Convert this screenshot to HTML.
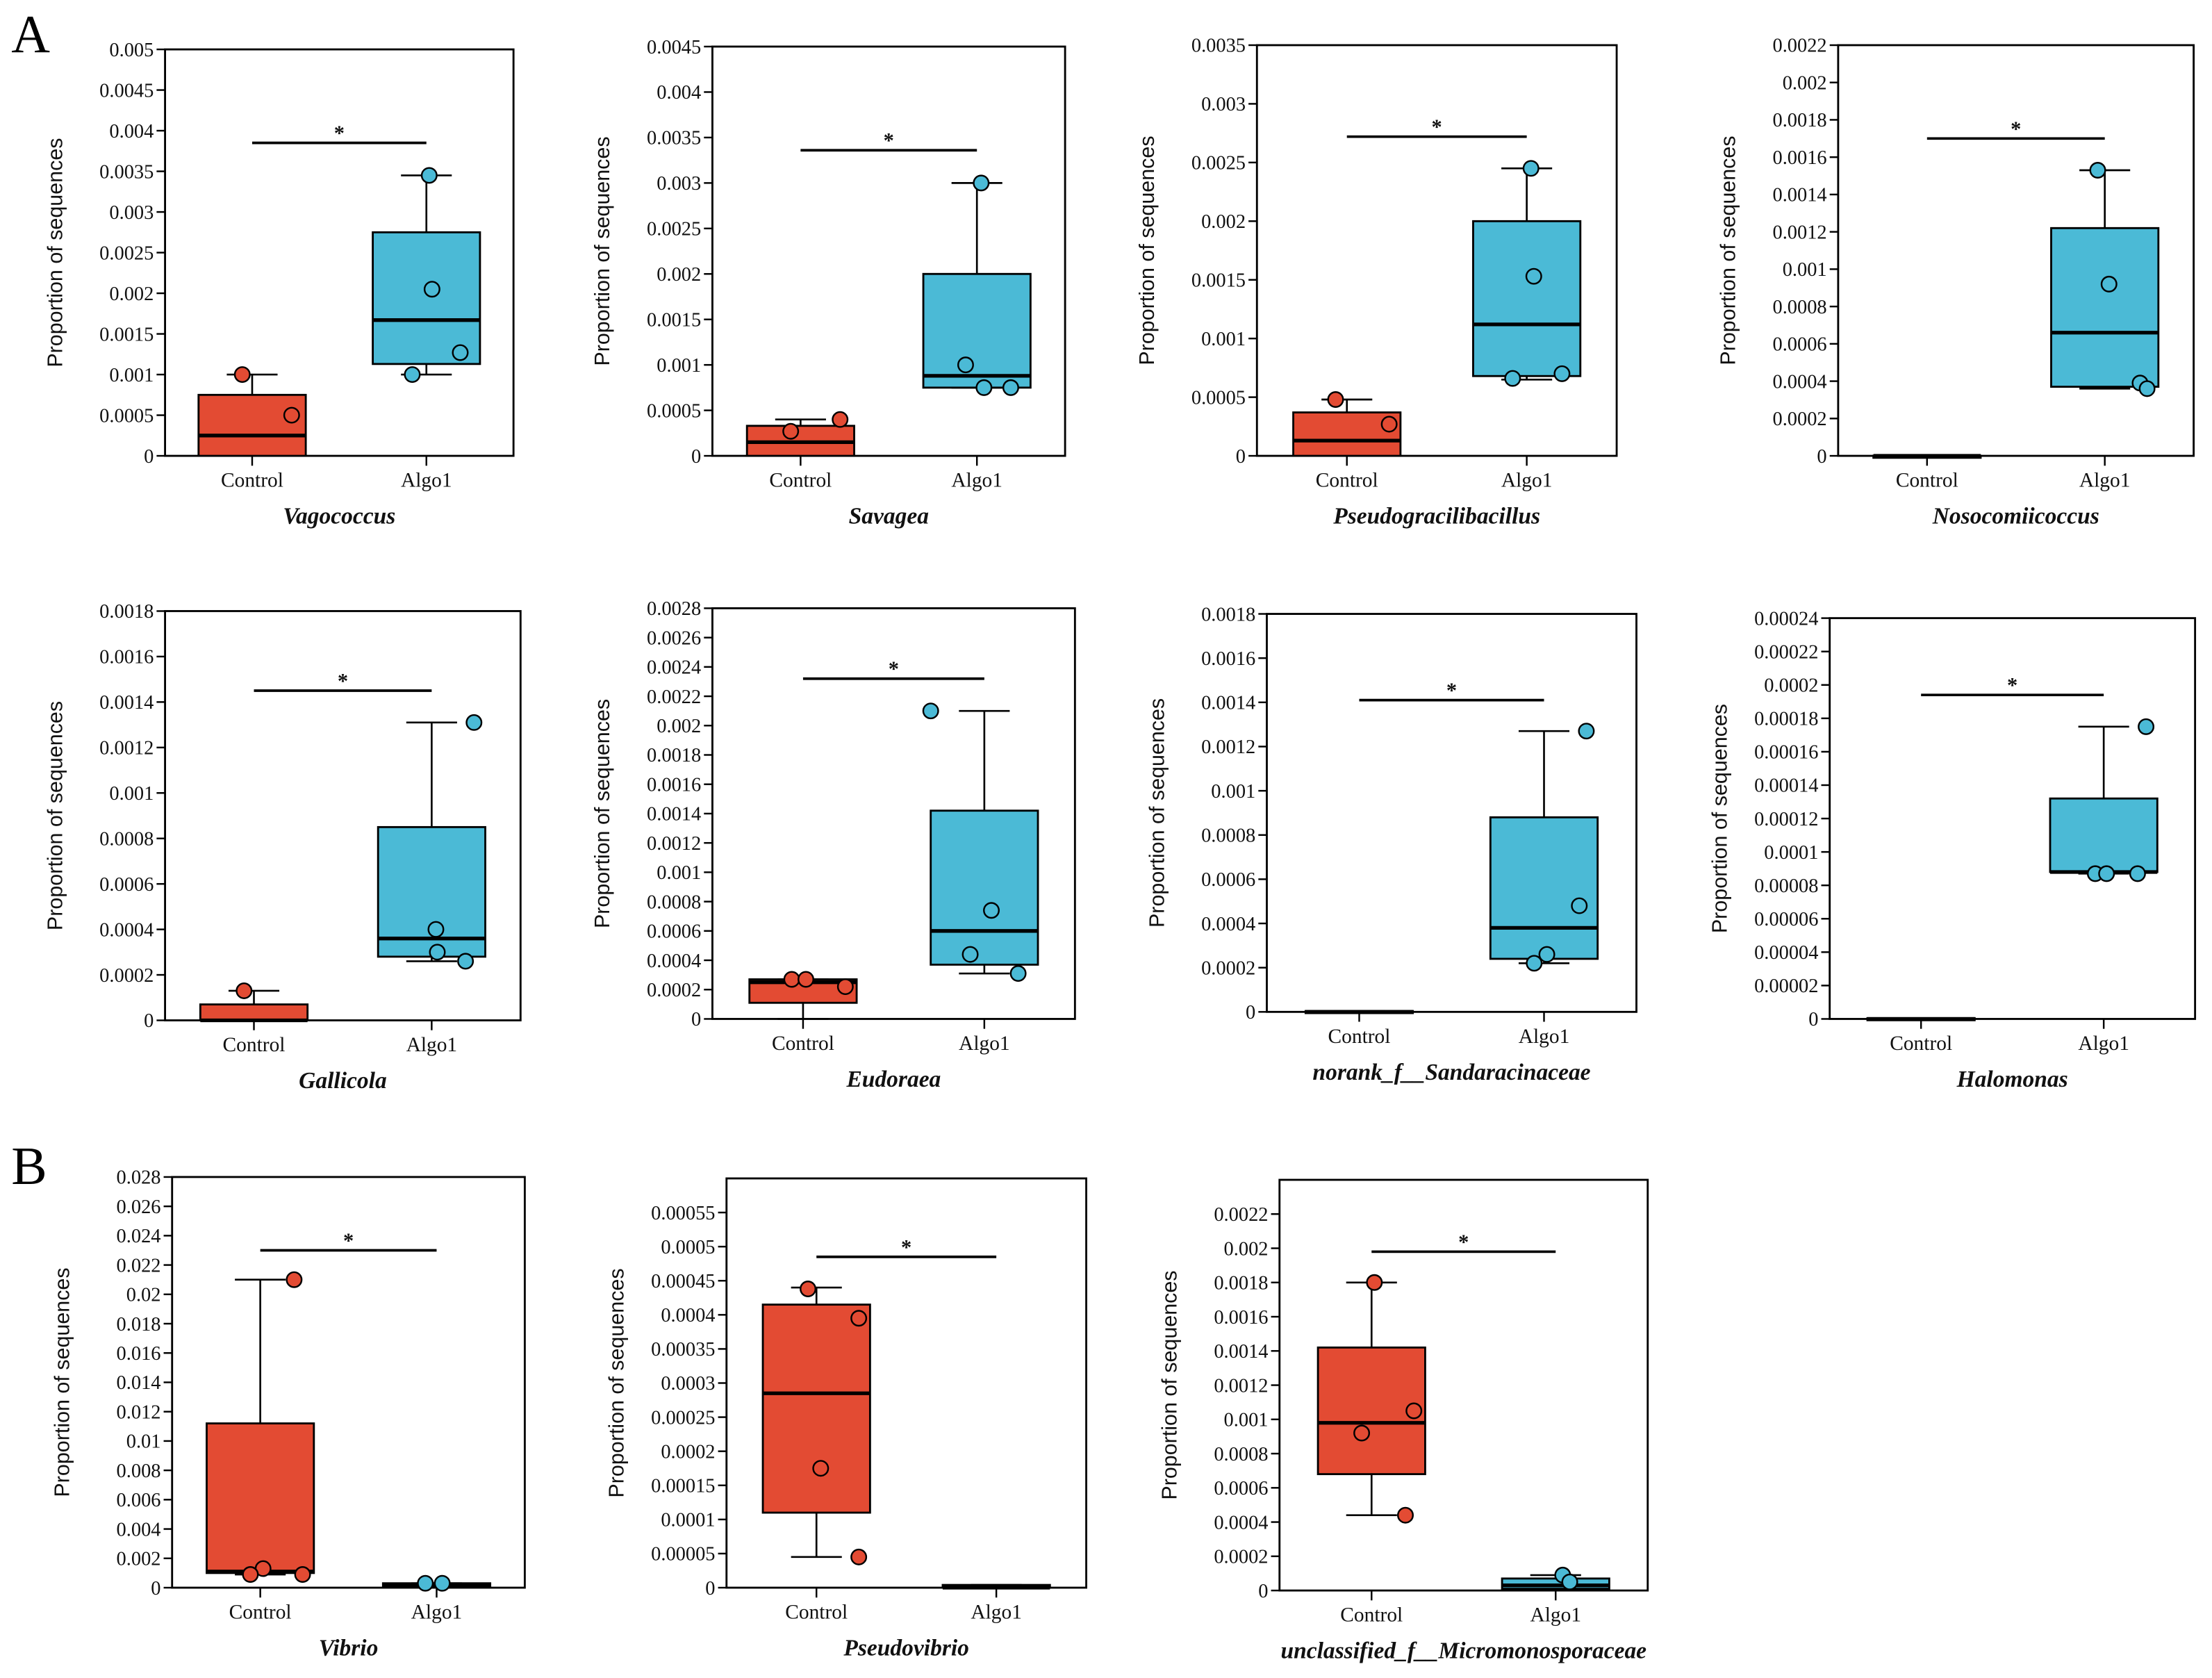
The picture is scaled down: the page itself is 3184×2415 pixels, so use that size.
<!DOCTYPE html>
<html><head><meta charset="utf-8"><style>
html,body{margin:0;padding:0;background:#fff;}
svg{display:block;}
text{font-family:"Liberation Serif",serif;}
</style></head>
<body>
<svg id="fig" xmlns="http://www.w3.org/2000/svg" width="3184" height="2415" viewBox="0 0 1568 1189" preserveAspectRatio="none">
<text x="8" y="37" font-size="38">A</text>
<text x="8" y="839" font-size="38">B</text>
</svg>
<script>
// Panel titles
const titles = ["Vagococcus","Savagea","Pseudogracilibacillus","Nosocomiicoccus","Gallicola","Eudoraea","norank_f__Sandaracinaceae","Halomonas","Vibrio","Pseudovibrio","unclassified_f__Micromonosporaceae"];
const categories = ["Control","Algo1"];
// y-axis maxima and tick steps / last labelled tick
const yMax = [0.005,0.0045,0.0035,0.0022,0.0018,0.0028,0.0018,0.00024,0.028,0.0006,0.0024];
const tickStep = [0.0005,0.0005,0.0005,0.0002,0.0002,0.0002,0.0002,0.00002,0.002,0.00005,0.0002];
const tickTop = [0.005,0.0045,0.0035,0.0022,0.0018,0.0028,0.0018,0.00024,0.028,0.00055,0.0022];
// Box stats: [whiskerLow, q1, median, q3, whiskerHigh]
const controlStats = [
 [0,0,0.00025,0.00075,0.001],[0,0,0.00015,0.00033,0.0004],[0,0,0.00013,0.00037,0.00048],[0,0,0,0.000001,0.000001],
 [0,0,0,0.00007,0.00013],[0,0.00011,0.00025,0.00027,0.00027],[0,0,0,0.000004,0.000004],[0,0,0,0.0000005,0.0000005],
 [0.0009,0.001,0.0011,0.0112,0.021],[0.000045,0.00011,0.000285,0.000415,0.00044],[0.00044,0.00068,0.00098,0.00142,0.0018]];
const algoStats = [
 [0.001,0.00113,0.00167,0.00275,0.00345],[0.00075,0.00075,0.00088,0.002,0.003],[0.00065,0.00068,0.00112,0.002,0.00245],[0.00036,0.00037,0.00066,0.00122,0.00153],
 [0.00026,0.00028,0.00036,0.00085,0.00131],[0.00031,0.00037,0.0006,0.00142,0.0021],[0.00022,0.00024,0.00038,0.00088,0.00127],[0.000087,0.000088,0.000088,0.000132,0.000175],
 [0.0001,0.0001,0.0002,0.0003,0.0003],[0,0,0,0.000004,0.000004],[0,0.00001,0.00003,0.00007,0.00009]];
// Sample point values
const controlPoints = [[0.001,0.0005],[0.0004,0.00027],[0.00048,0.00027],[],[0.00013],[0.00027,0.00027,0.00022],[],[],[0.021,0.0013,0.0009,0.0009],[0.000438,0.000395,0.000175,0.000045],[0.0018,0.00105,0.00092,0.00044]];
const algoPoints = [[0.00345,0.00205,0.00127,0.001],[0.003,0.001,0.00075,0.00075],[0.00245,0.00153,0.00066,0.0007],[0.00153,0.00092,0.00039,0.00036],[0.00131,0.0004,0.0003,0.00026],[0.0021,0.00074,0.00044,0.00031],[0.00127,0.00048,0.00026,0.00022],[0.000175,0.000087,0.000087,0.000087],[0.0003,0.0003],[],[0.00009,0.00005]];
// Significance bar height
const sigValue = [0.00385,0.00336,0.00272,0.0017,0.00145,0.00232,0.00141,0.000194,0.023,0.000485,0.00198];

// layout (in 1568x1189 units)
const frames = [[117,35,364,323],[505,33,755,323],[891,32,1146,323],[1303,32,1555,323],
 [117,433,369,723],[505,431,762,722],[898,435,1160,717],[1297,438,1556,722],
 [122,834,372,1125],[515,835,770,1125],[907,836,1168,1127]];
const ctrlJitter=[[-7,28],[28,-7],[-8,30],[],[-7],[-8,2,30],[],[],[24,2,-7,30],[-6,30,3,30],[2,30,-7,24]];
const algoJitter=[[2,4,24,-10],[3,-8,5,24],[3,5,-10,25],[-5,3,25,30],[30,3,4,24],[-38,5,-10,24],[30,25,2,-7],[30,-6,2,24],[-8,4],[],[5,10]];
const RED="#e34b33", BLUE="#4bbad6";
const svg=document.getElementById('fig');
const NS="http://www.w3.org/2000/svg";
function mk(tag,attrs,parent){const e=document.createElementNS(NS,tag);for(const k in attrs)e.setAttribute(k,attrs[k]);(parent||svg).appendChild(e);return e;}
function fmt(v){if(Math.abs(v)<1e-12)return "0";let s=v.toFixed(6);s=s.replace(/0+$/,'');return s;}

titles.forEach((t,i)=>{
 const [L,T,R,B]=frames[i];
 const g=mk('g',{});
 
 
 const y=v=>B-(v/yMax[i])*(B-T);
 const cx=[L+(R-L)*0.25,L+(R-L)*0.75];
 const fr=mk('rect',{x:L,y:T,width:R-L,height:B-T,fill:'none',stroke:'#000','stroke-width':1.4},g);
 
 
 const n=Math.round(tickTop[i]/tickStep[i]);
 for(let k=0;k<=n;k++){
  const v=k*tickStep[i], yy=y(v);
  mk('line',{x1:L-6,x2:L,y1:yy,y2:yy,stroke:'#000','stroke-width':1.2},g);
  const tx=mk('text',{x:L-8,y:yy+4.8,'font-size':14,'text-anchor':'end',fill:'#111'},g);
  tx.textContent=fmt(v);
  
  
 }
 const yt=mk('text',{x:0,y:0,'font-size':15,'text-anchor':'middle',fill:'#111',transform:`translate(${L-73},${(T+B)/2}) rotate(-90)`,style:'font-family:"Liberation Sans",sans-serif'},g);
 yt.textContent="Proportion of sequences";
 
 
 categories.forEach((c,j)=>{
  mk('line',{x1:cx[j],x2:cx[j],y1:B,y2:B+7,stroke:'#000','stroke-width':1.2},g);
  const xl=mk('text',{x:cx[j],y:B+22,'font-size':14.5,'text-anchor':'middle',fill:'#111'},g);
  xl.textContent=c;
  
  
 });
 const ti=mk('text',{x:(L+R)/2,y:B+48,'font-size':16.5,'text-anchor':'middle','font-style':'italic','font-weight':'bold',fill:'#111'},g);
 ti.textContent=t;
 
 
 [controlStats[i],algoStats[i]].forEach((s,j)=>{
  const c=cx[j], col=j?BLUE:RED, hw=38;
  const bg=mk('g',{},g);
  
  
  mk('line',{x1:c,x2:c,y1:y(s[3]),y2:y(s[4]),stroke:'#000','stroke-width':1.3},bg);
  mk('line',{x1:c,x2:c,y1:y(s[0]),y2:y(s[1]),stroke:'#000','stroke-width':1.3},bg);
  mk('line',{x1:c-18,x2:c+18,y1:y(s[4]),y2:y(s[4]),stroke:'#000','stroke-width':1.3},bg);
  mk('line',{x1:c-18,x2:c+18,y1:y(s[0]),y2:y(s[0]),stroke:'#000','stroke-width':1.3},bg);
  mk('rect',{x:c-hw,y:y(s[3]),width:2*hw,height:Math.max(y(s[1])-y(s[3]),1.5),fill:col,stroke:'#000','stroke-width':1.4},bg);
  mk('line',{x1:c-hw,x2:c+hw,y1:y(s[2]),y2:y(s[2]),stroke:'#000','stroke-width':2.6},bg);
 });
 [controlPoints[i],algoPoints[i]].forEach((pts,j)=>{
  const jit=j?algoJitter[i]:ctrlJitter[i];
  pts.forEach((v,k)=>{
   const p=mk('circle',{cx:cx[j]+(jit[k]||0),cy:y(v),r:5.3,fill:j?BLUE:RED,stroke:'#000','stroke-width':1.2},g);
   
   
  });
 });
 const sy=y(sigValue[i]);
 const sl=mk('line',{x1:cx[0],x2:cx[1],y1:sy,y2:sy,stroke:'#000','stroke-width':1.8},g);
 
 
 const st=mk('text',{x:(cx[0]+cx[1])/2,y:sy-2,'font-size':15,'text-anchor':'middle','font-weight':'bold',fill:'#111'},g);
 st.textContent="*";
 
 
});
</script>
</body></html>
